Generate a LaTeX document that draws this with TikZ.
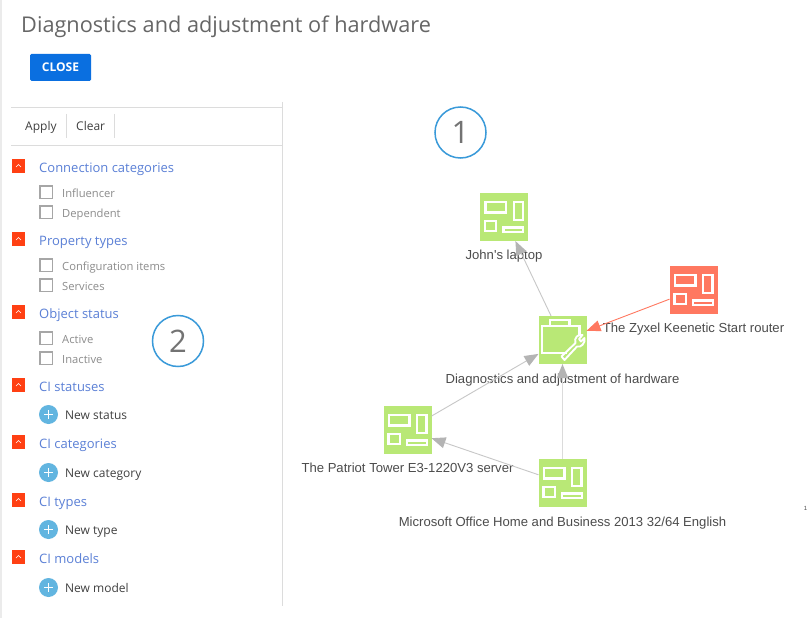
\documentclass[tikz,border=0pt]{standalone}
\usepackage{fontspec}
\setmainfont{Open Sans}
\newfontfamily\graphfont{Liberation Sans}
\usepackage{tikz}
\usetikzlibrary{arrows.meta,positioning}

\definecolor{ciGreen}{HTML}{B9E876}
\definecolor{ciRed}{HTML}{FF7860}
\definecolor{secRed}{HTML}{FF4013}
\definecolor{secBlue}{HTML}{5B80D6}
\definecolor{btnBlue}{HTML}{0A6FE0}
\definecolor{plusBlue}{HTML}{62B5E0}
\definecolor{badgeBlue}{HTML}{3A9AD9}
\definecolor{ruleGray}{HTML}{DCDCDC}
\definecolor{tipGray}{HTML}{B4B4B4}

\begin{document}
\begin{tikzpicture}[
  x=1pt,y=-1pt,
  ci/.style={fill=ciGreen,minimum size=48pt,inner sep=0pt,outer sep=0pt},
  glyph/.style={draw=white,line width=2.3pt,fill=none},
  graphlabel/.style={font=\graphfont\fontsize{13.1}{15}\selectfont,text=black!70,inner sep=0pt,
                     text height=9pt,text depth=3pt},
  link/.style={-{Triangle[length=14pt,width=11pt,color=tipGray]},draw=black!22,line width=.9pt},
  sectitle/.style={anchor=west,inner sep=0pt,font=\fontsize{13}{15}\selectfont,text=secBlue,
                   text height=9pt,text depth=3pt,yshift=-2.5pt},
  seccheck/.style={anchor=west,inner sep=0pt,font=\fontsize{11.2}{13}\selectfont,text=black!45,
                   text height=8pt,text depth=3pt,yshift=-2.5pt},
  secnew/.style={anchor=west,inner sep=0pt,font=\fontsize{12}{14}\selectfont,text=black!75,
                 text height=8pt,text depth=3pt,yshift=-2.5pt},
  badge/.style={circle,draw=badgeBlue,line width=1.5pt,minimum size=51pt,inner sep=0pt,
                font=\fontsize{31}{34}\selectfont,text=black!55}
]
  \useasboundingbox (0,0) rectangle (812,618);
  \fill[white] (0,0) rectangle (812,618);
  \fill[black!8] (0,0) rectangle (2,618);
  % Header
  \node[anchor=west,inner sep=0pt,font=\fontsize{21.7}{25}\selectfont,text=black!60] (title) at (21,27) {Diagnostics and adjustment of hardware};
  \node[fill=btnBlue,rounded corners=1.5pt,minimum width=61pt,minimum height=27pt,inner sep=0pt,
        text=white,font=\bfseries\fontsize{12}{14}\selectfont] (close) at (60.5,67.5) {CLOSE};
  % Filter panel
  \draw[ruleGray] (11,107.5) -- (282.5,107.5) (11,145.5) -- (282.5,145.5) (282.5,102) -- (282.5,606);
  \draw[ruleGray] (66.5,114) -- (66.5,138) (114.5,114) -- (114.5,138);
  \node[secnew] (apply) at (25,125) {Apply};
  \node[secnew] (clear) at (76,125) {Clear};
  % Sections
  \foreach \secname/\secy in {Connection categories/167,Property types/240,Object status/313,
                              CI statuses/386,CI categories/443,CI types/501,CI models/558}{
    \fill[secRed] (12,\secy-8) rectangle (25,\secy+6);
    \draw[white,line width=.6pt] (16,\secy) -- (18.5,\secy-2.5) -- (21,\secy);
    \node[sectitle] at (39,\secy) {\secname};
  }
  \foreach \boxname/\boxy in {Influencer/192.5,Dependent/212.5,Configuration items/265.5,
                              Services/285.5,Active/338.5,Inactive/358.5}{
    \draw[black!35,line width=1.1pt,fill=white] (40,\boxy-6.5) rectangle (52.5,\boxy+6);
    \node[seccheck] at (62,\boxy) {\boxname};
  }
  \foreach \newname/\newy in {New status/414.5,New category/472.5,New type/529.5,New model/587.5}{
    \fill[plusBlue] (48.5,\newy) circle (9.5);
    \draw[white,line width=.8pt] (44,\newy) -- (53,\newy) (48.5,\newy-4.5) -- (48.5,\newy+4.5);
    \node[secnew] at (65,\newy) {\newname};
  }
  % Badges
  \node[badge] (one) at (460.5,132.5) {1};
  \node[badge] (two) at (178,341) {2};
  % Graph nodes
  \node[ci] (laptop) at (504,217) {};
  \node[ci,fill=ciRed] (router) at (693.5,290) {};
  \node[ci] (hardware) at (562.5,340) {};
  \node[ci] (server) at (407.5,430) {};
  \node[ci] (office) at (562.5,483) {};
  % Labels
  \node[graphlabel,below=9pt of laptop] (laptoplabel) {John's laptop};
  \node[graphlabel,below=9pt of router] (routerlabel) {The Zyxel Keenetic Start router};
  \node[graphlabel,below=10pt of hardware] (hardwarelabel) {Diagnostics and adjustment of hardware};
  \node[graphlabel,below=9pt of server] (serverlabel) {The Patriot Tower E3-1220V3 server};
  \node[graphlabel,below=10pt of office] (officelabel) {Microsoft Office Home and Business 2013 32/64 English};
  % Glyphs
  \foreach \n in {laptop,router,server,office}{
    \begin{scope}[shift={(\n.north west)}]
      \draw[glyph] (5.5,8.8) rectangle (26,19.6) (33.8,8.8) rectangle (43,27.2)
                   (5.1,27.8) rectangle (16.2,38.2) (23.4,34.4) rectangle (43.2,38.9);
    \end{scope}
  }
  \begin{scope}[shift={(hardware.north west)}]
    \draw[glyph] (11.5,10) -- (11.5,4) -- (31,4) -- (31,10);
    \draw[glyph] (28,37) -- (3.5,37) -- (3.5,10) -- (41,10) -- (41,20);
    \draw[glyph,line width=1.9pt,line join=round] (23,40.5) -- (37,27) .. controls (35,22) and (40,17.5) .. (44,19)
      -- (40.5,23) -- (42.5,25.5) -- (46,22) .. controls (47,27) and (42.5,32) .. (38.5,30.5)
      -- (26,44) -- cycle;
  \end{scope}
  % Links
  \draw[link] (hardware) -- (laptop);
  \draw[link,-{Triangle[length=14pt,width=11pt,color=ciRed]},draw=ciRed] (router) -- (hardware);
  \draw[link] (server) -- (hardware);
  \draw[link,draw=black!14,line width=1.8pt] (office) -- (hardware);
  \draw[link] (office) -- (server);
  % Stray mark
  \node[inner sep=0pt,font=\graphfont\fontsize{6}{7}\selectfont,text=black!70] (stray) at (805.5,508.5) {1};
\end{tikzpicture}
\end{document}
